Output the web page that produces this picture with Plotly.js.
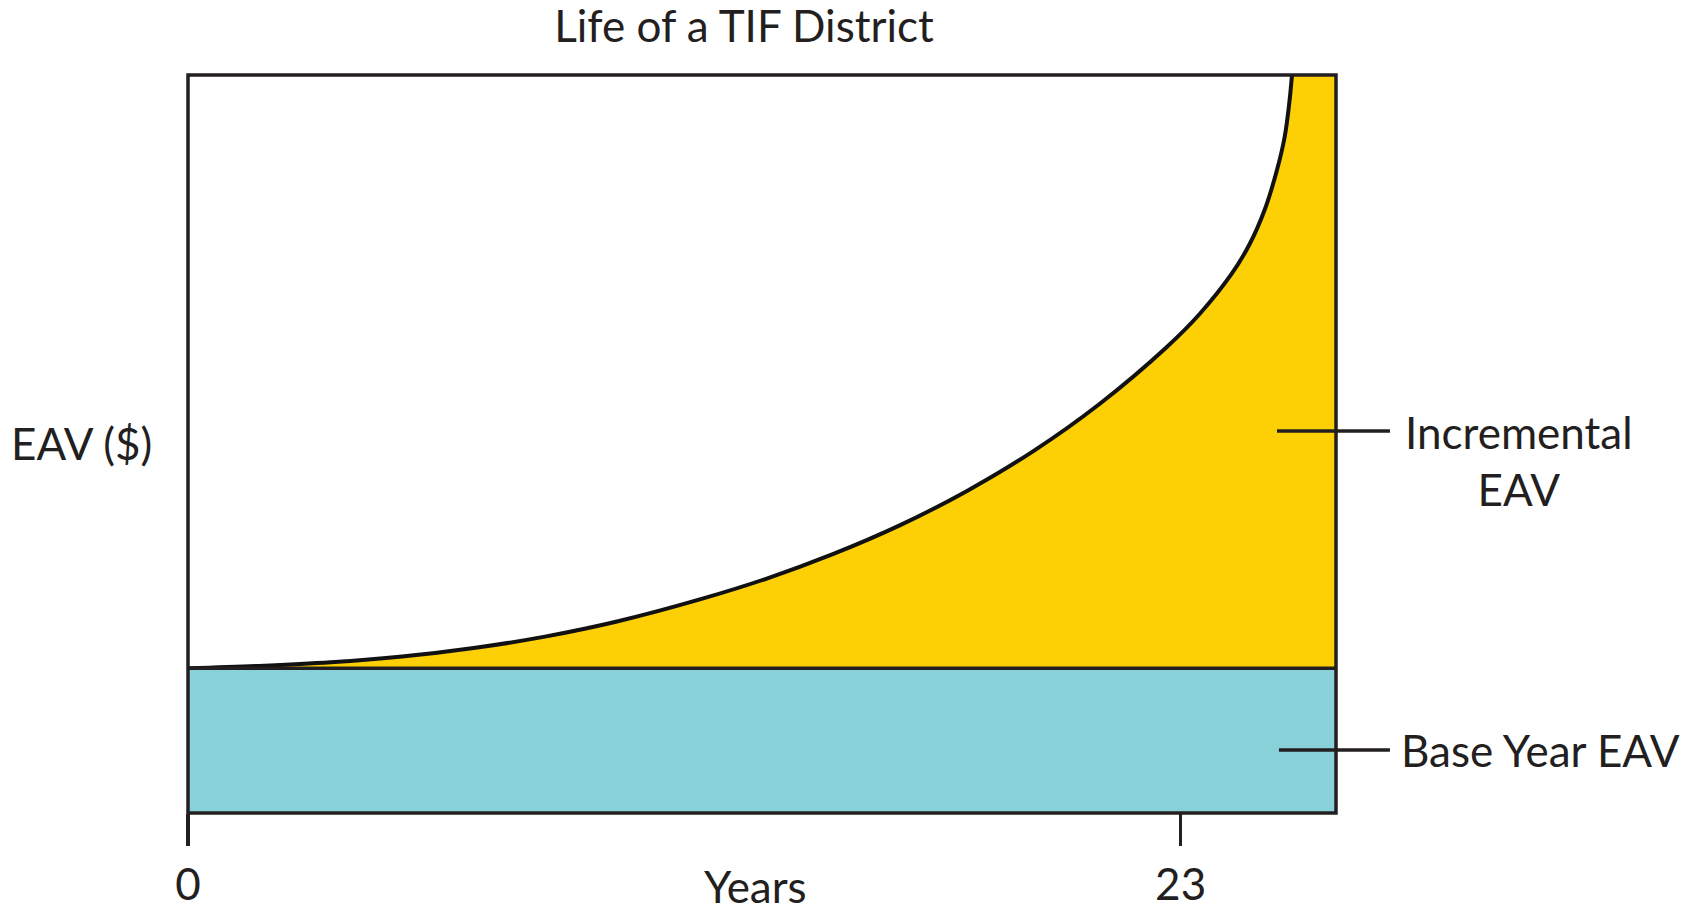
<!DOCTYPE html>
<html>
<head>
<meta charset="utf-8">
<script src="https://cdn.plot.ly/plotly-3.0.1.min.js"></script>
<style>html,body{margin:0;padding:0;background:#fff;}#chart{width:1685px;height:912px;}</style>
</head>
<body>
<div id="chart"></div>
<script>
// ---- data (arbitrary EAV units, years on x) ----
const years = [0, 1.64, 3.31, 4.96, 6.62, 8.27, 9.94, 11.86, 13.41, 14.94, 16.49, 18.04, 19.57, 21.12, 22.68, 23.44, 24.18, 24.60, 24.95, 25.22, 25.41, 25.52, 25.58];
const eav   = [20, 20.33, 20.83, 21.62, 22.80, 24.38, 26.47, 29.52, 32.40, 35.77, 39.75, 44.48, 49.95, 56.53, 64.41, 68.97, 74.50, 78.64, 83.41, 88.59, 93.43, 98.27, 102];
const baseEAV = 20;
const xMax = 26.6;
const yTop = 102;
const curveEnd = 25.58;
const tickVals = [0, 23];
const tickText = ["0", "23"];
const labels = {
  title: "Life of a TIF District",
  yTitle: "EAV ($)",
  xTitle: "Years",
  incremental: "Incremental<br>EAV",
  base: "Base Year EAV"
};

const INK = "#231f20";
const YELLOW = "#fcd004";
const TEAL = "#88d1d8";
const FONT = "Lato, 'Open Sans', sans-serif";
const FS = 44;

const traces = [
  { // incremental area to the right of the curve's end
    x: [curveEnd, xMax],
    y: [yTop, yTop],
    type: "scatter", mode: "lines",
    fill: "tozeroy", fillcolor: YELLOW,
    line: { width: 0, color: YELLOW },
    hoverinfo: "skip", showlegend: false
  },
  { // growth curve with incremental area under it
    x: years, y: eav,
    type: "scatter", mode: "lines",
    fill: "tozeroy", fillcolor: YELLOW,
    line: { width: 4, color: "#111", shape: "spline", smoothing: 1 },
    hoverinfo: "skip", showlegend: false
  },
  { // base year EAV (teal)
    x: [0, xMax],
    y: [baseEAV, baseEAV],
    type: "scatter", mode: "lines",
    fill: "tozeroy", fillcolor: TEAL,
    line: { width: 3.5, color: INK },
    hoverinfo: "skip", showlegend: false
  }
];

const layout = {
  width: 1685, height: 912,
  margin: { l: 188, r: 349, t: 75, b: 99 },
  paper_bgcolor: "#fff", plot_bgcolor: "#fff",
  font: { family: FONT, color: INK, size: FS },
  title: {
    text: labels.title,
    font: { family: FONT, size: FS, color: INK },
    x: 744 / 1685, xref: "container", xanchor: "center",
    y: 1 - 27 / 912, yref: "container", yanchor: "middle"
  },
  xaxis: {
    range: [0, xMax], showgrid: false, zeroline: false, showline: false,
    tickmode: "array", tickvals: tickVals, ticktext: tickText,
    ticks: "outside", ticklen: 32, tickwidth: 3.5, tickcolor: INK,
    tickfont: { family: FONT, size: FS, color: INK },
    ticklabelstandoff: 1,
    fixedrange: true
  },
  yaxis: {
    range: [0, yTop], showgrid: false, zeroline: false, showline: false,
    showticklabels: false, ticks: "", fixedrange: true
  },
  shapes: [
    { type: "rect", xref: "paper", yref: "paper", x0: 0, x1: 1, y0: 0, y1: 1,
      line: { color: INK, width: 3.5 }, fillcolor: "rgba(0,0,0,0)", layer: "above" },
    { type: "line", xref: "paper", yref: "paper", x0: 0.9486, x1: 1.047, y0: 0.5176, y1: 0.5176,
      line: { color: INK, width: 3.5 } },
    { type: "line", xref: "paper", yref: "paper", x0: 0.9503, x1: 1.047, y0: 0.0854, y1: 0.0854,
      line: { color: INK, width: 3.5 } }
  ],
  annotations: [
    { text: labels.yTitle, xref: "paper", yref: "paper", x: -0.156, y: 0.501,
      xanchor: "left", yanchor: "middle", showarrow: false,
      font: { family: FONT, size: FS, color: INK } },
    { text: labels.xTitle, xref: "paper", yref: "paper", x: 0.494, y: -0.099,
      xanchor: "center", yanchor: "middle", showarrow: false,
      font: { family: FONT, size: FS, color: INK } },
    { text: labels.incremental, xref: "paper", yref: "paper", x: 1.1594, y: 0.478,
      xanchor: "center", yanchor: "middle", align: "center", showarrow: false,
      font: { family: FONT, size: FS, color: INK } },
    { text: labels.base, xref: "paper", yref: "paper", x: 1.0548, y: 0.0854,
      xanchor: "left", yanchor: "middle", showarrow: false,
      font: { family: FONT, size: FS, color: INK } }
  ]
};

Plotly.newPlot("chart", traces, layout, { displayModeBar: false, staticPlot: true });
</script>
</body>
</html>
